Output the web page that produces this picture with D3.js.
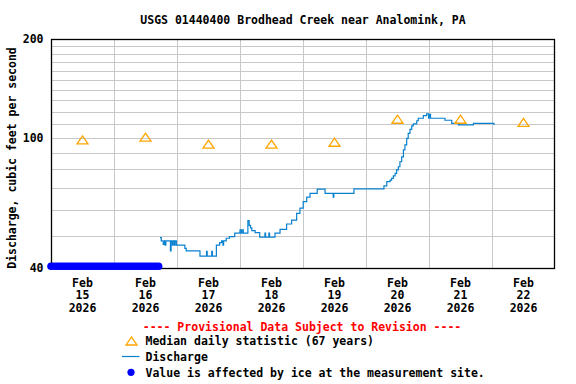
<!DOCTYPE html>
<html><head><meta charset="utf-8">
<script src="https://cdn.jsdelivr.net/npm/d3@7"></script>
<style>
html,body{margin:0;padding:0;background:#fff;}
svg text{font-family:"DejaVu Sans Mono",monospace;font-weight:bold;font-size:11.5px;}
</style></head>
<body><svg id="c" width="576" height="384"></svg>
<script>
const title = "USGS 01440400 Brodhead Creek near Analomink, PA";
const yTitle = "Discharge, cubic feet per second";
const yTickValues = [40, 100, 200];
const yGridValues = [50,60,70,80,90,100,110,120,130,140,150,160,170,180,190];
const dayLabels = ["2026-02-15","2026-02-16","2026-02-17","2026-02-18","2026-02-19","2026-02-20","2026-02-21","2026-02-22"];

const medianDates = ["2026-02-15 12:00","2026-02-16 12:00","2026-02-17 12:00","2026-02-18 12:00","2026-02-19 12:00","2026-02-20 12:00","2026-02-21 12:00","2026-02-22 12:00"];
const medianValues = [98.5, 100.3, 95.5, 95.6, 96.8, 113.8, 113.8, 111.3];

const dischargeTimes = [
"2026-02-16 17:30","2026-02-16 18:00","2026-02-16 18:45","2026-02-16 19:15","2026-02-16 19:30","2026-02-16 19:45",
"2026-02-16 21:30","2026-02-16 21:45","2026-02-16 22:15","2026-02-16 22:30","2026-02-16 23:00","2026-02-16 23:15","2026-02-16 23:45",
"2026-02-17 03:00","2026-02-17 03:30","2026-02-17 08:45","2026-02-17 11:15","2026-02-17 11:30","2026-02-17 13:15","2026-02-17 13:30",
"2026-02-17 15:00","2026-02-17 16:15","2026-02-17 17:00","2026-02-17 17:30","2026-02-17 17:45","2026-02-17 18:45","2026-02-17 20:00",
"2026-02-17 22:00","2026-02-18 00:00","2026-02-18 00:30","2026-02-18 00:45","2026-02-18 01:15","2026-02-18 03:00","2026-02-18 03:30",
"2026-02-18 04:00","2026-02-18 04:30","2026-02-18 05:45","2026-02-18 07:30","2026-02-18 09:30","2026-02-18 09:45","2026-02-18 11:00",
"2026-02-18 11:15","2026-02-18 12:30","2026-02-18 13:20","2026-02-18 15:15","2026-02-18 17:45","2026-02-18 19:40","2026-02-18 21:35",
"2026-02-18 22:50","2026-02-19 00:05","2026-02-19 01:25","2026-02-19 02:40","2026-02-19 05:25","2026-02-19 08:25","2026-02-19 11:30",
"2026-02-19 11:45","2026-02-19 19:25","2026-02-20 06:50","2026-02-20 07:55","2026-02-20 09:10","2026-02-20 09:45","2026-02-20 10:25",
"2026-02-20 11:05","2026-02-20 11:40","2026-02-20 12:20","2026-02-20 12:55","2026-02-20 13:35","2026-02-20 14:15","2026-02-20 14:50",
"2026-02-20 15:30","2026-02-20 16:05","2026-02-20 16:45","2026-02-20 17:25","2026-02-20 18:00","2026-02-20 19:20","2026-02-20 19:55",
"2026-02-20 21:50","2026-02-20 23:05","2026-02-20 23:50","2026-02-21 00:05","2026-02-21 00:35","2026-02-21 06:05","2026-02-21 08:40",
"2026-02-21 11:10","2026-02-21 11:20","2026-02-21 11:35","2026-02-21 16:55","2026-02-22 00:30","2026-02-22 00:45"
];
const dischargeValues = [
49.5, 48.4, 47.2, 48.4, 47.0, 48.4,
45.1, 48.4, 47.0, 48.4, 47.0, 48.4, 47.0,
45.9, 45.1, 43.5, 45.0, 43.5, 45.0, 43.5,
47.0, 47.8, 48.4, 47.0, 48.4, 49.3, 49.9,
51.1, 52.3, 51.1, 52.3, 51.1, 55.8, 54.0,
53.0, 52.0, 51.3, 49.7, 51.1, 49.7, 51.1,
49.7, 49.7, 51.1, 52.5, 54.5, 56.0, 58.7,
60.9, 63.8, 65.8, 67.6, 69.6, 67.6, 65.8,
67.6, 69.8, 71.2, 73.4, 74.2, 75.1, 76.4,
77.8, 79.7, 81.5, 84.4, 87.4, 91.7, 95.0,
99.5, 103.1, 106.0, 108.6, 110.1, 112.6, 114.6,
116.7, 118.1, 114.6, 117.8, 114.6, 113.0, 110.6,
109.3, 110.6, 109.3, 110.6, 110.6, 109.3
];

const iceTimes = [
"2026-02-15 00:00","2026-02-15 01:00","2026-02-15 02:00","2026-02-15 03:00","2026-02-15 04:00","2026-02-15 05:00",
"2026-02-15 06:00","2026-02-15 07:00","2026-02-15 08:00","2026-02-15 09:00","2026-02-15 10:00","2026-02-15 11:00",
"2026-02-15 12:00","2026-02-15 13:00","2026-02-15 14:00","2026-02-15 15:00","2026-02-15 16:00","2026-02-15 17:00",
"2026-02-15 18:00","2026-02-15 19:00","2026-02-15 20:00","2026-02-15 21:00","2026-02-15 22:00","2026-02-15 23:00",
"2026-02-16 00:00","2026-02-16 01:00","2026-02-16 02:00","2026-02-16 03:00","2026-02-16 04:00","2026-02-16 05:00",
"2026-02-16 06:00","2026-02-16 07:00","2026-02-16 08:00","2026-02-16 09:00","2026-02-16 10:00","2026-02-16 11:00",
"2026-02-16 12:00","2026-02-16 13:00","2026-02-16 14:00","2026-02-16 15:00","2026-02-16 16:00","2026-02-16 17:00"
];
const iceValue = 40.5;

const parse = d3.timeParse("%Y-%m-%d %H:%M");
const parseDay = d3.timeParse("%Y-%m-%d");

const L = 51, R = 555, T = 39, B = 268;
const svg = d3.select("#c");
const x = d3.scaleTime().domain([parse("2026-02-15 00:00"), parse("2026-02-23 00:00")]).range([L, R]);
const y = d3.scaleLog().domain([40, 200]).range([B, T]);

// grid
const g = svg.append("g");
g.selectAll("line.h").data(yGridValues).enter().append("line")
  .attr("x1", L).attr("x2", R)
  .attr("y1", d => Math.round(y(d)) + 0.5).attr("y2", d => Math.round(y(d)) + 0.5)
  .attr("stroke", "#c8c8c8").attr("stroke-width", 1);
const dayTicks = d3.timeDay.range(parse("2026-02-16 00:00"), parse("2026-02-23 00:00"));
g.selectAll("line.v").data(dayTicks).enter().append("line")
  .attr("x1", d => Math.round(x(d)) + 0.5).attr("x2", d => Math.round(x(d)) + 0.5)
  .attr("y1", T).attr("y2", B)
  .attr("stroke", "#c8c8c8").attr("stroke-width", 1);

// frame
svg.append("rect").attr("x", L + 0.5).attr("y", T + 0.5).attr("width", R - L - 1).attr("height", B - T)
  .attr("fill", "none").attr("stroke", "#000").attr("stroke-width", 1.3);

// discharge
const dis = dischargeTimes.map((t, i) => ({t: parse(t), v: dischargeValues[i]}));
svg.append("path").datum(dis)
  .attr("d", d3.line().x(d => x(d.t)).y(d => y(d.v)).curve(d3.curveStepAfter))
  .attr("fill", "none").attr("stroke", "#0880d0").attr("stroke-width", 1.2);

// medians
const tri = (cx, cy) => `M${cx - 5.5},${cy + 4} L${cx},${cy - 4} L${cx + 5.5},${cy + 4} Z`;
svg.selectAll("path.med").data(medianDates.map((d, i) => ({t: parse(d), v: medianValues[i]}))).enter()
  .append("path").attr("d", d => tri(x(d.t), y(d.v)))
  .attr("fill", "none").attr("stroke", "#ffa500").attr("stroke-width", 1.3);

// ice
svg.selectAll("circle.ice").data(iceTimes.map(t => parse(t))).enter().append("circle")
  .attr("cx", d => x(d)).attr("cy", y(iceValue)).attr("r", 3.8).attr("fill", "#0000ff");

// y ticks labels
svg.selectAll("text.yt").data(yTickValues).enter().append("text")
  .attr("x", 43.5).attr("y", d => y(d)).attr("text-anchor", "end").attr("dominant-baseline", "central")
  .text(d => d);

// x labels
const fmtM = d3.timeFormat("%b"), fmtD = d3.timeFormat("%d"), fmtY = d3.timeFormat("%Y");
dayLabels.forEach(s => {
  const d = parseDay(s);
  const cx = x(d3.timeHour.offset(d, 12));
  [[fmtM(d), 282.5], [fmtD(d), 295], [fmtY(d), 307.5]].forEach(([s2, yy]) => {
    svg.append("text").attr("x", cx).attr("y", yy).attr("text-anchor", "middle")
      .attr("dominant-baseline", "central").text(s2);
  });
});

// titles
svg.append("text").attr("x", 303).attr("y", 19.5).attr("text-anchor", "middle")
  .attr("dominant-baseline", "central").text(title);
svg.append("text").attr("transform", "translate(11.5,158) rotate(-90)").attr("text-anchor", "middle")
  .attr("dominant-baseline", "central").text(yTitle);

// legend
svg.append("text").attr("x", 302).attr("y", 326.5).attr("text-anchor", "middle")
  .attr("dominant-baseline", "central").attr("fill", "#ff0000")
  .text("---- Provisional Data Subject to Revision ----");
svg.append("path").attr("d", tri(131.5, 341)).attr("fill", "none").attr("stroke", "#ffa500").attr("stroke-width", 1.3);
svg.append("text").attr("x", 145.5).attr("y", 341).attr("dominant-baseline", "central").text("Median daily statistic (67 years)");
svg.append("line").attr("x1", 122).attr("x2", 139.5).attr("y1", 356.5).attr("y2", 356.5).attr("stroke", "#0880d0").attr("stroke-width", 1.2);
svg.append("text").attr("x", 145.5).attr("y", 356.5).attr("dominant-baseline", "central").text("Discharge");
svg.append("circle").attr("cx", 131).attr("cy", 372.3).attr("r", 3.6).attr("fill", "#0000ff");
svg.append("text").attr("x", 145.5).attr("y", 372.5).attr("dominant-baseline", "central").text("Value is affected by ice at the measurement site.");
</script></body></html>
